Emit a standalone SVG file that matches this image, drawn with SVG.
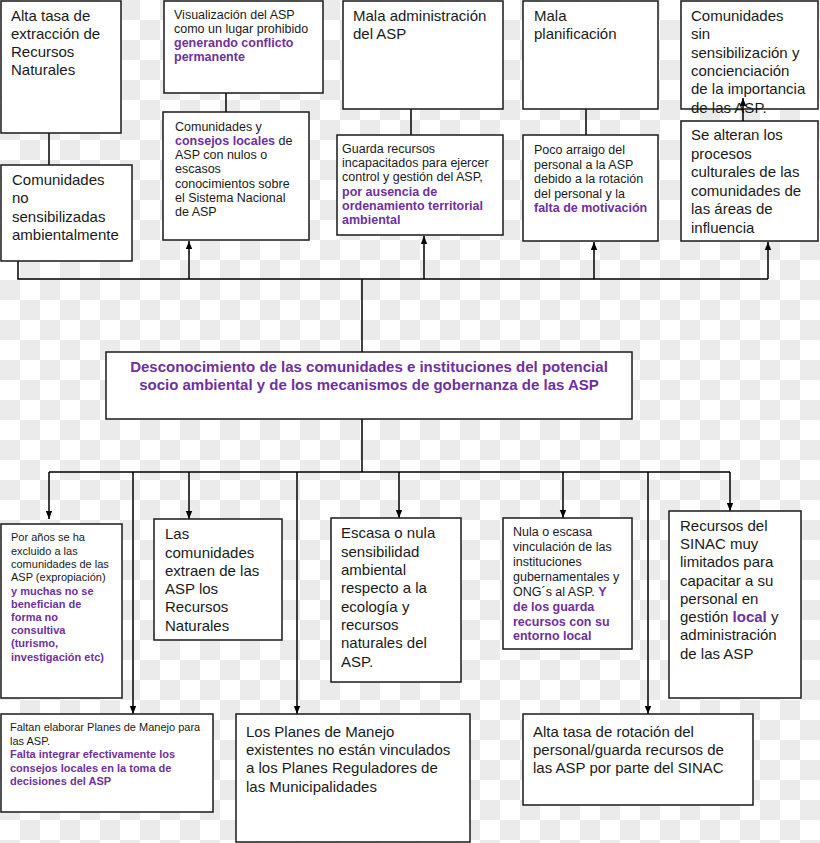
<svg xmlns="http://www.w3.org/2000/svg" width="820" height="843" viewBox="0 0 820 843">
<defs>
<pattern id="chk" width="40" height="40" patternUnits="userSpaceOnUse">
<rect width="40" height="40" fill="#ffffff"/>
<rect width="20" height="20" fill="#ebebeb"/>
<rect x="20" y="20" width="20" height="20" fill="#ebebeb"/>
</pattern>
<marker id="ah" markerWidth="8" markerHeight="10" refX="10" refY="4" orient="auto" markerUnits="userSpaceOnUse" viewBox="0 0 10 8">
<path d="M0,0 L10,4 L0,8 z" fill="#000"/>
</marker>
<style>
.box{fill:#fff;stroke:#1a1a1a;stroke-width:1.5}
.ln{fill:none;stroke:#000;stroke-width:1.5}
.t{font-family:"Liberation Sans",Arial,sans-serif;fill:#1a1a1a}
.L{font-size:15px}
.S{font-size:12.5px}
.XS{font-size:11px}
.p{fill:#7030a0;font-weight:bold}
.c{font-family:"Liberation Sans",Arial,sans-serif;font-size:15px;font-weight:bold;fill:#7030a0;text-anchor:middle}
</style>
</defs>
<rect width="820" height="843" fill="url(#chk)"/>

<g id="connectors">
<path class="ln" d="M49,165 V122" marker-end="url(#ah)"/>
<path class="ln" d="M18,261 V279 H768"/>
<path class="ln" d="M189,279 V241" marker-end="url(#ah)"/>
<path class="ln" d="M424,279 V236" marker-end="url(#ah)"/>
<path class="ln" d="M594,279 V242" marker-end="url(#ah)"/>
<path class="ln" d="M768,279 V242" marker-end="url(#ah)"/>
<path class="ln" d="M362,279 V352"/>
<path class="ln" d="M226,93 V112"/>
<path class="ln" d="M411,109 V135"/>
<path class="ln" d="M586,109 V135"/>
<path class="ln" d="M362,419 V472"/>
<path class="ln" d="M49,472 H730"/>
<path class="ln" d="M49,472 V519" marker-end="url(#ah)"/>
<path class="ln" d="M189,472 V519" marker-end="url(#ah)"/>
<path class="ln" d="M399,472 V518" marker-end="url(#ah)"/>
<path class="ln" d="M563,472 V518" marker-end="url(#ah)"/>
<path class="ln" d="M730,472 V511" marker-end="url(#ah)"/>
<path class="ln" d="M133,472 V714" marker-end="url(#ah)"/>
<path class="ln" d="M297,472 V714" marker-end="url(#ah)"/>
<path class="ln" d="M648,472 V714" marker-end="url(#ah)"/>
</g>

<g id="nA">
<rect class="box" x="1" y="1" width="120" height="132"/>
<text class="t L"><tspan x="11" y="21">Alta tasa de</tspan><tspan x="11" y="39">extracción de</tspan><tspan x="11" y="57">Recursos</tspan><tspan x="11" y="75">Naturales</tspan></text>
</g>

<g id="nB">
<rect class="box" x="164" y="1" width="159" height="92"/>
<text class="t S"><tspan x="174" y="19">Visualización del ASP</tspan><tspan x="174" y="33">como un lugar prohibido</tspan><tspan x="174" y="47" class="p">generando conflicto</tspan><tspan x="174" y="61" class="p">permanente</tspan></text>
</g>

<g id="nC">
<rect class="box" x="163" y="112" width="146" height="128"/>
<text class="t S"><tspan x="175" y="131">Comunidades y</tspan><tspan x="175" y="145"><tspan class="p">consejos locales</tspan> de</tspan><tspan x="175" y="159">ASP con nulos o</tspan><tspan x="175" y="173">escasos</tspan><tspan x="175" y="188">conocimientos sobre</tspan><tspan x="175" y="202">el Sistema Nacional</tspan><tspan x="175" y="216">de ASP</tspan></text>
</g>

<g id="nD">
<rect class="box" x="343" y="1" width="160" height="108"/>
<text class="t L"><tspan x="353" y="21">Mala administración</tspan><tspan x="353" y="39">del ASP</tspan></text>
</g>

<g id="nE">
<rect class="box" x="337" y="135" width="166" height="100"/>
<text class="t S"><tspan x="342" y="153">Guarda recursos</tspan><tspan x="342" y="167">incapacitados para ejercer</tspan><tspan x="342" y="181">control y gestión del ASP,</tspan><tspan x="342" y="196" class="p">por ausencia de</tspan><tspan x="342" y="210" class="p">ordenamiento territorial</tspan><tspan x="342" y="224" class="p">ambiental</tspan></text>
</g>

<g id="nF">
<rect class="box" x="523" y="1" width="135" height="108"/>
<text class="t L"><tspan x="534" y="21">Mala</tspan><tspan x="534" y="39">planificación</tspan></text>
</g>

<g id="nG">
<rect class="box" x="523" y="135" width="135" height="106"/>
<text class="t S"><tspan x="534" y="154">Poco arraigo del</tspan><tspan x="534" y="169">personal a la ASP</tspan><tspan x="534" y="183">debido a la rotación</tspan><tspan x="534" y="198">del personal y la</tspan><tspan x="534" y="212" class="p">falta de motivación</tspan></text>
</g>

<g id="nH">
<rect class="box" x="681" y="1" width="137" height="108"/>
<text class="t L"><tspan x="691" y="21">Comunidades</tspan><tspan x="691" y="39">sin</tspan><tspan x="691" y="58">sensibilización y</tspan><tspan x="691" y="76">concienciación</tspan><tspan x="691" y="94">de la importancia</tspan><tspan x="691" y="113">de las ASP.</tspan></text>
</g>

<g id="nI">
<rect class="box" x="681" y="121" width="137" height="120"/>
<text class="t L"><tspan x="691" y="140">Se alteran los</tspan><tspan x="691" y="159">procesos</tspan><tspan x="691" y="177">culturales de las</tspan><tspan x="691" y="196">comunidades de</tspan><tspan x="691" y="214">las áreas de</tspan><tspan x="691" y="233">influencia</tspan></text>
</g>
<path class="ln" d="M743,121 V98" marker-end="url(#ah)"/>

<g id="nJ">
<rect class="box" x="1" y="165" width="131" height="96"/>
<text class="t L"><tspan x="12" y="185">Comunidades</tspan><tspan x="12" y="203">no</tspan><tspan x="12" y="222">sensibilizadas</tspan><tspan x="12" y="240">ambientalmente</tspan></text>
</g>

<g id="nCenter">
<rect class="box" x="106" y="352" width="526" height="67"/>
<text class="c"><tspan x="369" y="372">Desconocimiento de las comunidades e instituciones del potencial</tspan><tspan x="369" y="390">socio ambiental y  de los mecanismos de gobernanza de las ASP</tspan></text>
</g>

<g id="nK">
<rect class="box" x="1" y="524" width="121" height="174"/>
<text class="t XS"><tspan x="11" y="541">Por años se ha</tspan><tspan x="11" y="555">excluido a las</tspan><tspan x="11" y="568">comunidades de las</tspan><tspan x="11" y="581">ASP (expropiación)</tspan><tspan x="11" y="595" class="p">y muchas no se</tspan><tspan x="11" y="608" class="p">benefician  de</tspan><tspan x="11" y="621" class="p">forma no</tspan><tspan x="11" y="634" class="p">consultiva</tspan><tspan x="11" y="647" class="p">(turismo,</tspan><tspan x="11" y="661" class="p">investigación  etc)</tspan></text>
</g>

<g id="nL">
<rect class="box" x="154" y="519" width="128" height="121"/>
<text class="t L"><tspan x="165" y="539">Las</tspan><tspan x="165" y="558">comunidades</tspan><tspan x="165" y="576">extraen de las</tspan><tspan x="165" y="594">ASP los</tspan><tspan x="165" y="612">Recursos</tspan><tspan x="165" y="631">Naturales</tspan></text>
</g>

<g id="nM">
<rect class="box" x="331" y="518" width="130" height="164"/>
<text class="t L"><tspan x="341" y="538">Escasa o nula</tspan><tspan x="341" y="557">sensibilidad</tspan><tspan x="341" y="575">ambiental</tspan><tspan x="341" y="593">respecto a la</tspan><tspan x="341" y="612">ecología y</tspan><tspan x="341" y="630">recursos</tspan><tspan x="341" y="648">naturales del</tspan><tspan x="341" y="667">ASP.</tspan></text>
</g>

<g id="nN">
<rect class="box" x="503" y="518" width="129" height="131"/>
<text class="t S"><tspan x="513" y="536">Nula o escasa</tspan><tspan x="513" y="551">vinculación de las</tspan><tspan x="513" y="566">instituciones</tspan><tspan x="513" y="581">gubernamentales y</tspan><tspan x="513" y="596">ONG´s al ASP. <tspan class="p">Y</tspan></tspan><tspan x="513" y="611" class="p">de los guarda</tspan><tspan x="513" y="626" class="p">recursos con su</tspan><tspan x="513" y="640" class="p">entorno local</tspan></text>
</g>

<g id="nO">
<rect class="box" x="669" y="511" width="132" height="187"/>
<text class="t L"><tspan x="680" y="531">Recursos del</tspan><tspan x="680" y="549">SINAC muy</tspan><tspan x="680" y="567">limitados para</tspan><tspan x="680" y="586">capacitar a su</tspan><tspan x="680" y="604">personal en</tspan><tspan x="680" y="622">gestión <tspan class="p">local</tspan> y</tspan><tspan x="680" y="640">administración</tspan><tspan x="680" y="659">de las ASP</tspan></text>
</g>

<g id="nP">
<rect class="box" x="1" y="714" width="212" height="98"/>
<text class="t XS"><tspan x="10" y="731">Faltan elaborar Planes de Manejo para</tspan><tspan x="10" y="745">las ASP.</tspan><tspan x="10" y="758" class="p">Falta integrar efectivamente los</tspan><tspan x="10" y="772" class="p">consejos locales en la toma de</tspan><tspan x="10" y="785" class="p">decisiones del ASP</tspan></text>
</g>

<g id="nQ">
<rect class="box" x="236" y="714" width="234" height="128"/>
<text class="t L"><tspan x="246" y="737">Los Planes de Manejo</tspan><tspan x="246" y="755">existentes no están vinculados</tspan><tspan x="246" y="773">a los Planes Reguladores de</tspan><tspan x="246" y="792">las Municipalidades</tspan></text>
</g>

<g id="nR">
<rect class="box" x="523" y="714" width="230" height="91"/>
<text class="t L"><tspan x="533" y="737">Alta tasa de rotación del</tspan><tspan x="533" y="755">personal/guarda recursos de</tspan><tspan x="533" y="773">las ASP por parte del SINAC</tspan></text>
</g>
</svg>
